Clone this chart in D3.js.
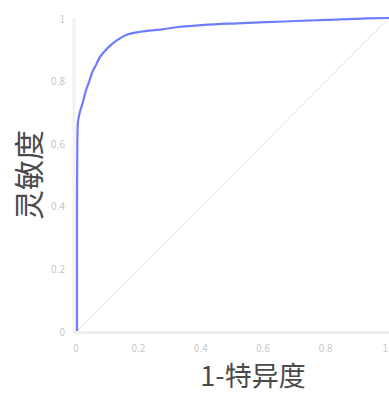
<!DOCTYPE html>
<html>
<head>
<meta charset="utf-8">
<script src="https://cdn.jsdelivr.net/npm/d3@7/dist/d3.min.js"></script>
<style>
  html, body { margin: 0; padding: 0; background: #fff; }
  svg { display: block; }
</style>
</head>
<body>
<svg id="chart" width="389" height="393"></svg>
<script>
// ROC curve: false positive rate (1 - specificity) vs. true positive rate (sensitivity)
const fpr = [0, 0, 0.001, 0.003, 0.018, 0.029, 0.039, 0.05, 0.061, 0.071, 0.087, 0.109, 0.13, 0.157, 0.204, 0.268, 0.332, 0.407, 0.513, 0.641, 0.80, 0.929, 1.0];
const tpr = [0, 0.42, 0.60, 0.668, 0.728, 0.77, 0.797, 0.83, 0.85, 0.871, 0.892, 0.914, 0.93, 0.946, 0.956, 0.963, 0.972, 0.978, 0.983, 0.988, 0.994, 0.999, 1.0];
const xTicks = [0, 0.2, 0.4, 0.6, 0.8, 1];
const yTicks = [0, 0.2, 0.4, 0.6, 0.8, 1];
const xTitle = "1-特异度";
const yTitle = "灵敏度";

const svg = d3.select("#chart");
const x = d3.scaleLinear().domain([0, 1]).range([77, 389]);
const y = d3.scaleLinear().domain([0, 1]).range([331, 18]);

const font = "'Noto Sans CJK SC', 'Noto Sans', sans-serif";

// axis lines
svg.append("line")
  .attr("x1", x(0) - 3).attr("x2", x(0) - 3)
  .attr("y1", y(1)).attr("y2", y(0) + 2)
  .attr("stroke", "#f2f2f2").attr("stroke-width", 3);
svg.append("line")
  .attr("x1", x(0) - 3).attr("x2", x(1))
  .attr("y1", y(0) + 1.5).attr("y2", y(0) + 1.5)
  .attr("stroke", "#eeeeee").attr("stroke-width", 3);

// chance diagonal
svg.append("line")
  .attr("x1", x(0)).attr("y1", y(0))
  .attr("x2", x(1)).attr("y2", y(1))
  .attr("stroke", "#eeeeee").attr("stroke-width", 1.5);

// tick labels
svg.append("g").selectAll("text").data(yTicks).join("text")
  .attr("x", x(0) - 12).attr("y", d => y(d))
  .attr("text-anchor", "end").attr("dominant-baseline", "central")
  .attr("font-family", font).attr("font-size", 10).attr("fill", "#c8c8c8")
  .text(d => d3.format("~g")(d));
// the last x label sits against the right edge, so it is end-anchored there
svg.append("g").selectAll("text").data(xTicks).join("text")
  .attr("x", d => d === 1 ? x(d) - 1 : x(d) - 1)
  .attr("y", 347)
  .attr("text-anchor", d => d === 1 ? "end" : "middle")
  .attr("dominant-baseline", "central")
  .attr("font-family", font).attr("font-size", 10).attr("fill", "#c8c8c8")
  .text(d => d3.format("~g")(d));

// ROC curve
const pts = fpr.map((v, i) => [v, tpr[i]]);
svg.append("path")
  .datum(pts)
  .attr("fill", "none")
  .attr("stroke", "#6e7dff")
  .attr("stroke-width", 2.2)
  .attr("stroke-linejoin", "round")
  .attr("d", d3.line().x(d => x(d[0])).y(d => y(d[1])).curve(d3.curveMonotoneX));

// axis titles
svg.append("text")
  .attr("x", 253).attr("y", 374)
  .attr("text-anchor", "middle").attr("dominant-baseline", "central")
  .attr("font-family", font).attr("font-size", 27).attr("fill", "#4a4a4a")
  .text(xTitle);
svg.append("text")
  .attr("transform", "translate(27,175) rotate(-90)")
  .attr("text-anchor", "middle").attr("dominant-baseline", "central")
  .attr("font-family", font).attr("font-size", 30).attr("fill", "#4a4a4a")
  .text(yTitle);
</script>
</body>
</html>
